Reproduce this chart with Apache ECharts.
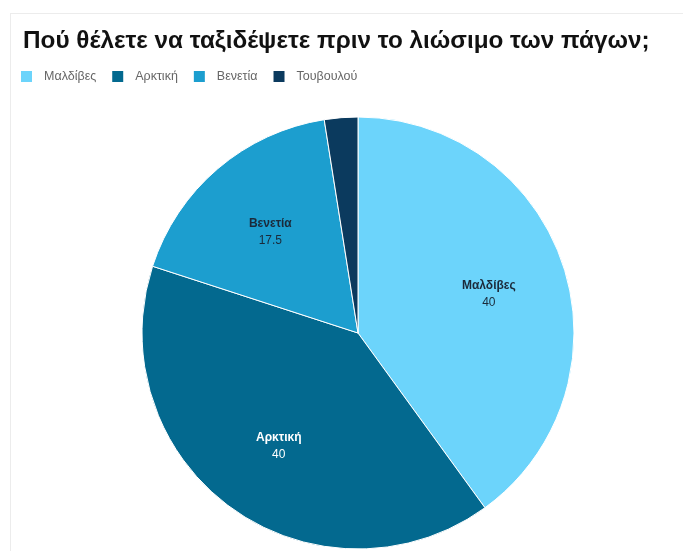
<!DOCTYPE html>
<html>
<head>
<meta charset="utf-8">
<script src="https://cdn.jsdelivr.net/npm/echarts@6/dist/echarts.min.js"></script>
<style>
  html, body { margin: 0; padding: 0; background: #fff; }
  #frame { position: absolute; left: 10px; top: 13px; width: 673px; height: 538px; border-top: 1px solid #ececec; border-left: 1px solid #ececec; }
  #chart { position: absolute; left: 0; top: 0; width: 683px; height: 551px; }
</style>
</head>
<body>
<div id="frame"></div>
<div id="chart"></div>
<script>
const titleText = 'Πού θέλετε να ταξιδέψετε πριν το λιώσιμο των πάγων;';
const categories = ['Μαλδίβες', 'Αρκτική', 'Βενετία', 'Τουβουλού'];
const values = [40, 40, 17.5, 2.5];
const colors = ['#6cd4fb', '#03698f', '#1c9ecf', '#0b3a5e'];
const labelColors = ['#1b2a3a', '#ffffff', '#1b2a3a', '#ffffff'];

const CX = 358, CY = 333, R = 216;

const chart = echarts.init(document.getElementById('chart'));
chart.setOption({
  animation: false,
  backgroundColor: 'transparent',
  color: colors,
  title: {
    text: titleText,
    left: 23,
    top: 29,
    padding: 0,
    textStyle: { fontFamily: 'Liberation Sans, Arial, sans-serif', fontSize: 24.3, fontWeight: 'bold', color: '#111' }
  },
  legend: {
    left: 21,
    top: 70,
    padding: 0,
    itemWidth: 11,
    itemHeight: 11,
    itemGap: 16,
    icon: 'rect',
    itemStyle: { borderWidth: 0 },
    data: categories,
    textStyle: { fontFamily: 'Liberation Sans, Arial, sans-serif', fontSize: 12.5, color: '#666', padding: [0, 0, 0, 7] }
  },
  series: [{
    type: 'pie',
    center: [CX, CY],
    radius: [0, R],
    startAngle: 90,
    clockwise: true,
    avoidLabelOverlap: false,
    itemStyle: { borderColor: '#ffffff', borderWidth: 1 },
    label: {
      show: true,
      position: 'inside',
      fontFamily: 'Liberation Sans, Arial, sans-serif',
      lineHeight: 17,
      formatter: function (p) { return '{n|' + p.name + '}\n{v|' + p.value + '}'; },
      rich: {
        n: { fontSize: 12, fontWeight: 'bold', lineHeight: 17 },
        v: { fontSize: 12, lineHeight: 17 }
      }
    },
    labelLine: { show: false },
    labelLayout: function (p) {
      const r = p.labelRect;
      const lx = r.x + r.width / 2, ly = r.y + r.height / 2;
      return { dx: (lx - CX) * 0.23 + 1, dy: (ly - CY) * 0.23 + 3 };
    },
    data: categories.map(function (c, i) {
      return {
        name: c,
        value: values[i],
        label: i === 3 ? { show: false } : { color: labelColors[i] }
      };
    })
  }]
});
</script>
</body>
</html>
